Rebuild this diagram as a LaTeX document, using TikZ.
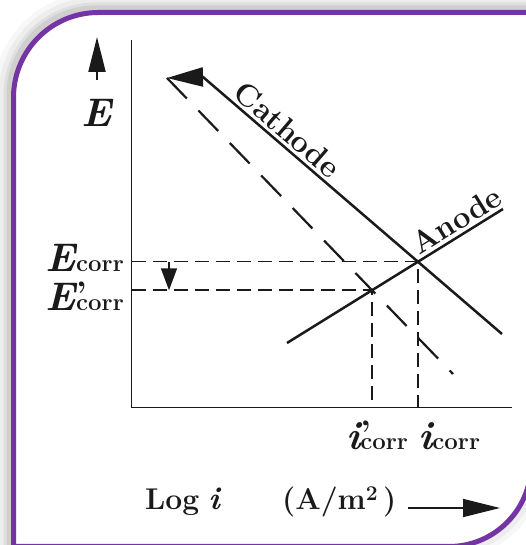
\documentclass[tikz,border=0pt]{standalone}
\usepackage{fontspec}
\usepackage{tikz}
\usetikzlibrary{arrows.meta}
\definecolor{cFrame}{HTML}{7434A4}
\definecolor{cInk}{HTML}{1A1A1A}
\newcommand\framepath{(13.5,-1.5) -- (13.5,447.5) arc[start angle=180, end angle=90, radius=85]
  -- (531,532.5) -- (531,80.5) arc[start angle=0, end angle=-90, radius=82] -- cycle}
\newcommand\corrsub{{\fontsize{24}{24}\selectfont\bfseries\upshape corr}}
\newcommand\primemark{\rlap{\raisebox{5pt}{\fontsize{34}{34}\selectfont\bfseries\upshape ’}}}
\tikzset{
  frame/.style={draw=cFrame, line width=5pt},
  axis/.style={draw=cInk, line width=1.3pt},
  curve/.style={draw=cInk, line width=2.5pt},
  shifted/.style={draw=cInk, line width=2.2pt, dash pattern=on 28.5pt off 16.7pt},
  guide/.style={draw=cInk, line width=1.6pt, dash pattern=on 14pt off 7pt},
  lbl/.style={font=\fontsize{31}{33}\selectfont\bfseries, text=cInk, inner sep=3pt},
  sym/.style={font=\fontsize{40}{42}\selectfont\bfseries\itshape, text=cInk, inner sep=0pt},
}

\begin{document}
\begin{tikzpicture}[x=1pt, y=1pt]
  \useasboundingbox (0,0) rectangle (526,545);
  \clip (0,0) rectangle (526,545);
  \fill[white] (0,0) rectangle (526,545);

  % frame with soft shadow
  \foreach \w/\o in {34/0.03, 24/0.04, 14/0.06, 8/0.07}
    \draw[black, opacity=\o, line width=\w pt, xshift=-3pt, yshift=3pt] \framepath;
  \fill[white] \framepath;
  \draw[frame] \framepath;

  % axes
  \coordinate (O) at (131.5,137.5);
  \coordinate (ytop) at (131.5,505);
  \coordinate (xend) at (512,137.5);
  \draw[axis] (ytop) -- (O) -- (xend);

  % E direction arrow
  \coordinate (eb) at (97,465);
  \coordinate (et) at (97,508);
  \draw[draw=cInk, line width=2pt, -{Triangle[length=35pt, width=17pt]}] (eb) -- (et);
  \node[sym, anchor=base] (elbl) at (97,418) {E};

  % polarisation lines
  \coordinate (C0) at (167,467);
  \coordinate (C1) at (203,468);
  \coordinate (C2) at (502,211);
  \coordinate (D1) at (453,171);
  \coordinate (A0) at (287,202);
  \coordinate (A1) at (503,336);
  \coordinate (X) at (418,283.3);
  \coordinate (Xp) at (372,254.7);

  \draw[curve, {Triangle[length=36pt, width=19pt]}-] (C0) -- (C1)
    -- node[lbl, sloped, above, pos=0.25] {Cathode} (C2);
  \draw[shifted] (C0) -- (D1);
  \draw[curve] (A0) -- node[lbl, sloped, above, pos=0.82] {Anode} (A1);

  % corrosion point guides
  \draw[guide] (ytop |- X) -- (X) -- (X |- O);
  \draw[guide] (ytop |- Xp) -- (Xp) -- (Xp |- O);
  \coordinate (s0) at (169,0);
  \draw[draw=cInk, line width=1.6pt, -{Triangle[length=22pt, width=16pt]}] (s0 |- X) -- (s0 |- Xp);

  % labels
  \node[sym, anchor=base east] (ecorr) at (124,273) {E\corrsub};
  \node[sym, anchor=base east] (epcorr) at (124,234) {E\primemark\corrsub};
  \node[sym, anchor=base west] (ipcorr) at (346,95) {i\primemark\corrsub};
  \node[sym, anchor=base west] (icorr) at (418,95) {i\corrsub};

  \node[lbl, font=\fontsize{30}{32}\selectfont\bfseries, anchor=base west] (loglbl) at (142,35) {Log};
  \node[sym, font=\fontsize{32}{34}\selectfont\bfseries\itshape, anchor=base] (ilbl) at (214,35) {i};
  \node[lbl, font=\fontsize{30}{32}\selectfont\bfseries, anchor=base west] (unitlbl) at (279,35) {(A/m\textsuperscript{2}\,)};
  \coordinate (xa0) at (408,37);
  \coordinate (xa1) at (500,37);
  \draw[draw=cInk, line width=1.5pt, -{Triangle[length=37pt, width=18pt]}] (xa0) -- (xa1);
\end{tikzpicture}
\end{document}
